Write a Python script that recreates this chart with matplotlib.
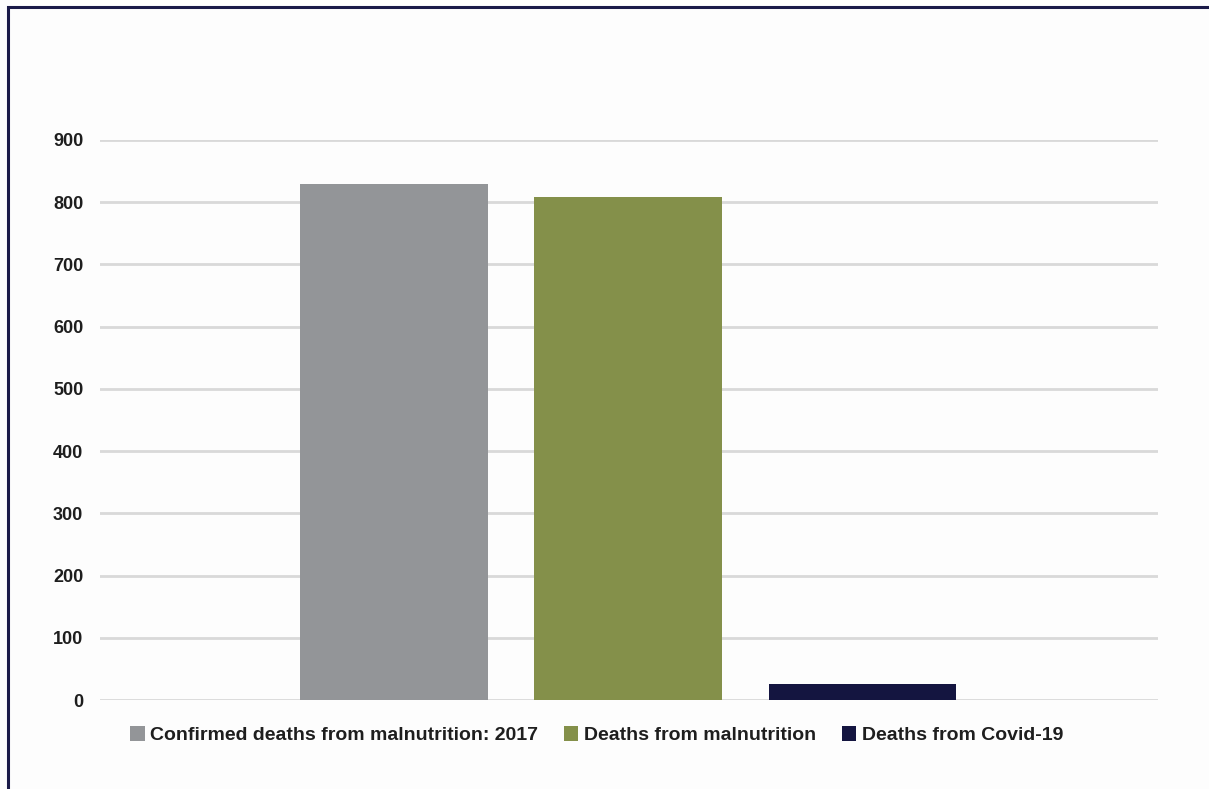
import matplotlib.pyplot as plt
from matplotlib.patches import Rectangle

plt.rcParams['font.family'] = ['Liberation Sans', 'DejaVu Sans']

# Deaths data
series = ['Confirmed deaths from malnutrition: 2017', 'Deaths from malnutrition', 'Deaths from Covid-19']
deaths = [829, 808, 26]
colors = ['#939598', '#84904a', '#141540']
y_ticks = [0, 100, 200, 300, 400, 500, 600, 700, 800, 900]

fig = plt.figure(figsize=(12.09, 7.89), dpi=100, facecolor='#fdfdfd')
ax = fig.add_axes([0.0827, 0.1128, 0.875, 0.7098])
ax.set_facecolor('#fdfdfd')

for i, (name, val, c) in enumerate(zip(series, deaths, colors)):
    ax.bar(i, val, width=0.8, color=c, label=name, zorder=3)

ax.set_xlim(-1.255, 3.262)
ax.set_ylim(0, 900)
ax.set_yticks(y_ticks)
ax.set_yticklabels([str(t) for t in y_ticks], fontsize=13, fontweight='bold', color='#1e1e1e')
ax.set_xticks([])
ax.tick_params(axis='y', length=0, pad=12)
ax.grid(axis='y', color='#d9d9d9', linewidth=2, zorder=0)
for s in ax.spines.values():
    s.set_visible(False)

leg = fig.legend(loc='center', bbox_to_anchor=(0.4935, 0.068), ncol=3, frameon=False,
                 prop={'size': 14, 'weight': 'bold'}, handlelength=0.75, handleheight=0.75,
                 handletextpad=0.3, columnspacing=1.3, labelcolor='#1e1e1e')

# outer frame (left and top edges show)
fig.patches.append(Rectangle((8 / 1209, -0.1), 1.2, 1 - 6.5 / 789 + 0.1, transform=fig.transFigure,
                             fill=False, edgecolor='#1a1a48', linewidth=2.2, zorder=10))

fig.savefig('out.png', dpi=100, facecolor=fig.get_facecolor())
